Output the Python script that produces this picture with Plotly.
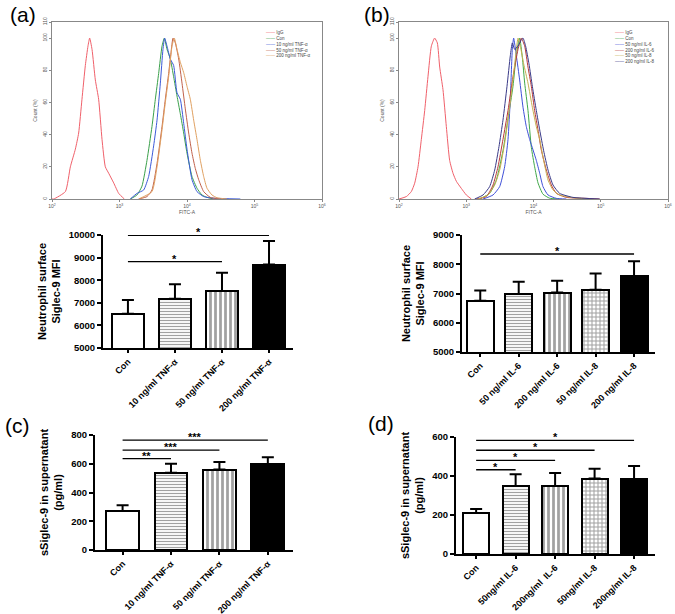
import numpy as np
import plotly.graph_objects as go

# ---------------- (a) flow histograms (x: log10 FITC, y: % of max) ----------------
A_NAMES = ["IgG", "Con", "10 ng/ml TNF-α", "50 ng/ml TNF-α", "200 ng/ml TNF-α"]
A_COLORS = ["#f0606a", "#3aa04a", "#3c5ad8", "#c0604a", "#e0a060"]

A_ISO_LOGX = [2.0, 2.025, 2.198, 2.272, 2.346, 2.395, 2.444, 2.494, 2.533, 2.558, 2.593, 2.642, 2.691, 2.741, 2.790, 2.840, 2.914, 2.988, 3.072]
A_ISO_Y = [0, 0, 4.6, 20, 31, 41, 62, 83, 95, 100, 93, 74, 62, 37, 20, 16, 10, 3.5, 0]

A_CON_LOGX = [3.160, 3.259, 3.333, 3.407, 3.481, 3.531, 3.580, 3.630, 3.664, 3.704, 3.753, 3.802, 3.852, 3.901, 3.951, 4.000, 4.074, 4.148, 4.222, 4.296, 4.395]
A_CON_Y = [0, 2.5, 8, 24, 45, 62, 78, 95, 100, 93, 87, 76, 64, 53, 41, 28.5, 14, 6.7, 2.5, 1, 0]

A_T10_LOGX = [3.160, 3.259, 3.358, 3.432, 3.506, 3.556, 3.605, 3.644, 3.669, 3.704, 3.753, 3.802, 3.852, 3.901, 3.951, 4.000, 4.074, 4.148, 4.247, 4.395, 4.790]
A_T10_Y = [0, 3.5, 5.6, 14, 33, 49, 72, 93, 100, 95, 87, 83, 66, 62, 47, 31, 12, 4.6, 1.5, 0.5, 0]

A_T50_LOGX = [3.284, 3.407, 3.481, 3.556, 3.630, 3.679, 3.728, 3.763, 3.793, 3.827, 3.877, 3.926, 3.975, 4.025, 4.074, 4.123, 4.173, 4.247, 4.346, 4.494]
A_T50_Y = [0, 1.5, 5.6, 22, 45, 62, 78, 91, 100, 97, 87, 72, 56, 41, 28.5, 19, 12, 4.6, 1, 0]

A_T200_LOGX = [3.284, 3.481, 3.556, 3.630, 3.679, 3.728, 3.778, 3.812, 3.852, 3.901, 3.951, 4.000, 4.049, 4.099, 4.148, 4.198, 4.247, 4.296, 4.370, 4.444, 4.593]
A_T200_Y = [0, 4.6, 20, 43, 60, 76, 95, 100, 93, 85, 78.5, 70, 62, 49, 37, 24, 14, 6.7, 2.5, 0.8, 0]

# ---------------- (b) flow histograms ----------------
B_NAMES = ["IgG", "Con", "50 ng/ml IL-6", "200 ng/ml IL-6", "50 ng/ml IL-8", "200 ng/ml IL-8"]
B_COLORS = ["#f0606a", "#40a848", "#4050d8", "#b83838", "#c8b050", "#3a3a88"]

B_ISO_LOGX = [2.0, 2.109, 2.183, 2.233, 2.283, 2.332, 2.382, 2.431, 2.481, 2.530, 2.570, 2.605, 2.654, 2.704, 2.753, 2.803, 2.853, 2.927, 3.001, 3.076]
B_ISO_Y = [0, 1.5, 4.6, 9.8, 20, 37, 55, 76, 95, 100, 97, 82, 68, 45, 24, 16, 11, 6.6, 2.5, 0]

B_CON_LOGX = [3.199, 3.348, 3.447, 3.546, 3.621, 3.695, 3.745, 3.794, 3.834, 3.869, 3.918, 3.968, 4.017, 4.067, 4.141, 4.240, 4.389]
B_CON_Y = [0, 3.5, 11.8, 30, 50, 70, 90, 100, 88, 72, 55, 32, 20, 10, 3, 0.5, 0]

B_IL6_50_LOGX = [3.249, 3.398, 3.497, 3.571, 3.621, 3.655, 3.685, 3.705, 3.745, 3.794, 3.844, 3.893, 3.943, 3.993, 4.042, 4.092, 4.141, 4.216, 4.340, 4.488]
B_IL6_50_Y = [0, 2.5, 7.7, 20, 37, 62, 93, 100, 89, 74, 57, 45, 37, 30.5, 24, 16, 7.7, 2.5, 0.4, 0]

B_IL6_200_LOGX = [3.150, 3.299, 3.398, 3.472, 3.546, 3.621, 3.695, 3.770, 3.819, 3.869, 3.918, 3.968, 4.017, 4.067, 4.116, 4.191, 4.265, 4.340, 4.488, 4.786, 4.984]
B_IL6_200_Y = [0, 1.5, 8.7, 20, 37, 55, 76, 93, 100, 95, 82, 70, 55, 43, 30.5, 18, 8.7, 3.5, 1, 0.4, 0]

B_IL8_50_LOGX = [3.175, 3.323, 3.423, 3.497, 3.571, 3.646, 3.705, 3.745, 3.770, 3.804, 3.854, 3.918, 3.983, 4.042, 4.092, 4.151, 4.216, 4.290, 4.389, 4.587, 4.786]
B_IL8_50_Y = [0, 2.5, 8.7, 18, 34.6, 57, 78, 93, 100, 95, 84, 72, 57, 45, 37, 24, 11.8, 5.6, 2.5, 0.8, 0]

B_IL8_200_LOGX = [3.125, 3.249, 3.348, 3.423, 3.487, 3.546, 3.606, 3.655, 3.685, 3.720, 3.770, 3.819, 3.844, 3.883, 3.933, 3.983, 4.042, 4.092, 4.151, 4.216, 4.290, 4.389, 4.587, 4.984]
B_IL8_200_Y = [0, 2.5, 7.7, 18, 32.6, 49, 70, 89, 97, 93, 95, 99, 100, 95, 84, 70, 55, 43, 30, 18, 8.7, 3.5, 1, 0]

HIST_YTICKS = [0, 20, 40, 60, 80, 100, 110]

# ---------------- bar charts ----------------
A_CATS = ["Con", "10 ng/ml TNF-α", "50 ng/ml TNF-α", "200 ng/ml TNF-α"]
A_MFI = [6510, 7180, 7520, 8690]
A_MFI_ERR = [610, 640, 810, 1045]
A_SIG_FROM = [0, 0]
A_SIG_TO = [2, 3]
A_SIG_Y = [8820, 9980]
A_SIG_TXT = ["*", "*"]

B_CATS = ["Con", "50 ng/ml IL-6", "200 ng/ml IL-6", "50 ng/ml IL-8", "200 ng/ml IL-8"]
B_MFI = [6750, 6980, 7030, 7130, 7600]
B_MFI_ERR = [350, 420, 410, 550, 500]
B_SIG_FROM = [0]
B_SIG_TO = [4]
B_SIG_Y = [8350]
B_SIG_TXT = ["*"]

C_CATS = ["Con", "10 ng/ml TNF-α", "50 ng/ml TNF-α", "200 ng/ml TNF-α"]
C_SOL = [272, 537, 560, 595]
C_SOL_ERR = [40, 63, 52, 51]
C_SIG_FROM = [0, 0, 0]
C_SIG_TO = [1, 2, 3]
C_SIG_Y = [635, 695, 765]
C_SIG_TXT = ["**", "***", "***"]

D_CATS = ["Con", "50ng/ml IL-6", "200ng/ml  IL-6", "50ng/ml IL-8", "200ng/ml IL-8"]
D_SOL = [210, 349, 349, 387, 385]
D_SOL_ERR = [21, 60, 66, 50, 66]
D_SIG_FROM = [0, 0, 0, 0]
D_SIG_TO = [1, 2, 3, 4]
D_SIG_Y = [432, 480, 532, 583]
D_SIG_TXT = ["*", "*", "*", "*"]

W, H = 675, 614
FONT = "Liberation Sans, Arial, sans-serif"


def fx(p):
    return p / W


def fy(p):
    return 1 - p / H


fig = go.Figure()

# histograms
a_curves = [(A_ISO_LOGX, A_ISO_Y), (A_CON_LOGX, A_CON_Y), (A_T10_LOGX, A_T10_Y),
            (A_T50_LOGX, A_T50_Y), (A_T200_LOGX, A_T200_Y)]
b_curves = [(B_ISO_LOGX, B_ISO_Y), (B_CON_LOGX, B_CON_Y), (B_IL6_50_LOGX, B_IL6_50_Y),
            (B_IL6_200_LOGX, B_IL6_200_Y), (B_IL8_50_LOGX, B_IL8_50_Y), (B_IL8_200_LOGX, B_IL8_200_Y)]

for (lx, yy), name, col in zip(a_curves, A_NAMES, A_COLORS):
    fig.add_trace(go.Scatter(x=10 ** np.array(lx), y=yy, mode="lines", name=name,
                             line=dict(color=col, width=1, shape="spline", smoothing=0.5),
                             xaxis="x", yaxis="y", showlegend=False))
for (lx, yy), name, col in zip(b_curves, B_NAMES, B_COLORS):
    fig.add_trace(go.Scatter(x=10 ** np.array(lx), y=yy, mode="lines", name=name,
                             line=dict(color=col, width=1, shape="spline", smoothing=0.5),
                             xaxis="x2", yaxis="y2", showlegend=False))


def legend_text(names, colors):
    rows = [f"<span style='color:{c}'>——</span> {n}" for n, c in zip(names, colors)]
    return "<br>".join(rows)


# bar styling per group
STYLE4 = dict(color=["white", "white", "white", "black"],
              shape=["", "-", "|", ""],
              fg=["black", "#555", "black", "black"],
              size=[4, 3, 5, 4],
              sol=[0.3, 0.4, 0.55, 0.3])
STYLE5 = dict(color=["white", "white", "white", "white", "black"],
              shape=["", "-", "|", "+", ""],
              fg=["black", "#555", "black", "black", "black"],
              size=[4, 3, 5, 4, 4],
              sol=[0.3, 0.4, 0.55, 0.45, 0.3])


def add_bars(cats, vals, errs, style, xa, ya, width, sig):
    fig.add_trace(go.Bar(
        x=cats, y=vals, width=width, xaxis=xa, yaxis=ya, showlegend=False,
        marker=dict(color=style["color"], line=dict(color="black", width=2),
                    pattern=dict(shape=style["shape"], fgcolor=style["fg"], bgcolor="white",
                                 size=style["size"], solidity=style["sol"], fillmode="overlay")),
        error_y=dict(type="data", symmetric=False, array=errs, arrayminus=[0] * len(errs),
                     color="black", thickness=2, width=6),
    ))
    frm, to, hy, txt = sig
    for i, j, h, t in zip(frm, to, hy, txt):
        fig.add_trace(go.Scatter(x=[cats[i], cats[j]], y=[h, h], mode="lines",
                                 line=dict(color="black", width=1.3), xaxis=xa, yaxis=ya,
                                 showlegend=False, cliponaxis=False, hoverinfo="skip"))
        fig.add_annotation(x=(i + j) / 2, y=h, xref=xa, yref=ya, text=f"<b>{t}</b>",
                           showarrow=False, yanchor="bottom", yshift=-5,
                           font=dict(size=11, color="black", family=FONT))


add_bars(A_CATS, A_MFI, A_MFI_ERR, STYLE4, "x3", "y3", 0.68, (A_SIG_FROM, A_SIG_TO, A_SIG_Y, A_SIG_TXT))
add_bars(B_CATS, B_MFI, B_MFI_ERR, STYLE5, "x4", "y4", 0.70, (B_SIG_FROM, B_SIG_TO, B_SIG_Y, B_SIG_TXT))
add_bars(C_CATS, C_SOL, C_SOL_ERR, STYLE4, "x5", "y5", 0.68, (C_SIG_FROM, C_SIG_TO, C_SIG_Y, C_SIG_TXT))
add_bars(D_CATS, D_SOL, D_SOL_ERR, STYLE5, "x6", "y6", 0.66, (D_SIG_FROM, D_SIG_TO, D_SIG_Y, D_SIG_TXT))

# axes
hist_font = dict(size=5, color="#555", family=FONT)
hist_x = dict(type="log", range=[2, 6], tickvals=[1e2, 1e3, 1e4, 1e5, 1e6],
              ticktext=["10<sup>2</sup>", "10<sup>3</sup>", "10<sup>4</sup>", "10<sup>5</sup>", "10<sup>6</sup>"],
              showline=True, linecolor="#888", linewidth=1, mirror=True, ticks="outside",
              ticklen=2, tickcolor="#888", tickfont=hist_font,
              showgrid=False, zeroline=False, automargin=False,
              title=dict(text="FITC-A", font=hist_font, standoff=2))
hist_y = dict(range=[0, 110], tickvals=HIST_YTICKS, showline=True, linecolor="#888", linewidth=1,
              mirror=True, ticks="outside", ticklen=2, tickcolor="#888",
              tickfont=hist_font, tickangle=-90,
              showgrid=False, zeroline=False, automargin=False,
              title=dict(text="Count (%)", font=hist_font, standoff=4))

bar_x = dict(type="category", showline=True, linecolor="black", linewidth=2, ticks="outside",
             ticklen=3, tickwidth=2, tickcolor="black", tickangle=-45, showgrid=False,
             zeroline=False, automargin=False,
             tickfont=dict(size=9, color="black", family=FONT, weight="bold"))
bar_y = dict(showline=True, linecolor="black", linewidth=2, ticks="outside", ticklen=4,
             tickwidth=2, tickcolor="black", showgrid=False, zeroline=False, automargin=False,
             tickformat="d", tickfont=dict(size=9.5, color="black", family=FONT, weight="bold"))
ytitle_font = dict(size=11, color="black", family=FONT, weight="bold")

fig.update_layout(
    width=W, height=H, margin=dict(l=0, r=0, t=0, b=0, autoexpand=False),
    paper_bgcolor="white", plot_bgcolor="white", bargap=0,
    font=dict(family=FONT),
    xaxis=dict(hist_x, domain=[fx(52), fx(322)], anchor="y"),
    yaxis=dict(hist_y, domain=[fy(199), fy(22)], anchor="x"),
    xaxis2=dict(hist_x, domain=[fx(399), fx(668)], anchor="y2"),
    yaxis2=dict(hist_y, domain=[fy(199), fy(22)], anchor="x2"),
    xaxis3=dict(bar_x, domain=[fx(103), fx(293)], anchor="y3", range=[-0.53, 3.51]),
    yaxis3=dict(bar_y, domain=[fy(348), fy(235)], anchor="x3", range=[5000, 10000], dtick=1000,
                title=dict(text="Neutrophil surface<br>Siglec-9 MFI", font=ytitle_font, standoff=6)),
    xaxis4=dict(bar_x, domain=[fx(462), fx(655)], anchor="y4", range=[-0.475, 4.545]),
    yaxis4=dict(bar_y, domain=[fy(352), fy(235)], anchor="x4", range=[5000, 9000], dtick=1000,
                title=dict(text="Neutrophil surface<br>Siglec-9 MFI", font=ytitle_font, standoff=6)),
    xaxis5=dict(bar_x, domain=[fx(95), fx(293)], anchor="y5", range=[-0.57, 3.52]),
    yaxis5=dict(bar_y, domain=[fy(550), fy(435)], anchor="x5", range=[0, 800], dtick=200,
                title=dict(text="sSiglec-9 in supernatant<br>(pg/ml)", font=ytitle_font, standoff=6)),
    xaxis6=dict(bar_x, domain=[fx(456), fx(655)], anchor="y6", range=[-0.51, 4.53]),
    yaxis6=dict(bar_y, domain=[fy(554), fy(437)], anchor="x6", range=[0, 600], dtick=200,
                title=dict(text="sSiglec-9 in supernatant<br>(pg/ml)", font=ytitle_font, standoff=6)),
)

# legends for flow panels
fig.add_annotation(x=fx(264), y=fy(28), xref="paper", yref="paper", xanchor="left", yanchor="top",
                   align="left", showarrow=False, text=legend_text(A_NAMES, A_COLORS),
                   font=dict(size=4.5, color="#444", family=FONT))
fig.add_annotation(x=fx(613), y=fy(28), xref="paper", yref="paper", xanchor="left", yanchor="top",
                   align="left", showarrow=False, text=legend_text(B_NAMES, B_COLORS),
                   font=dict(size=4.5, color="#444", family=FONT))

# panel letters
for lab, px, py in [("(a)", 8, 1), ("(b)", 362, 1), ("(c)", 3, 412), ("(d)", 366, 410)]:
    fig.add_annotation(x=fx(px), y=fy(py), xref="paper", yref="paper", xanchor="left",
                       yanchor="top", showarrow=False, text=lab,
                       font=dict(size=21, color="black", family=FONT))

# page body has a default 8px margin; drop it so the figure fills the window
fig.write_html("out.html", config={"displayModeBar": False},
               post_script="document.body.style.margin='0';")
